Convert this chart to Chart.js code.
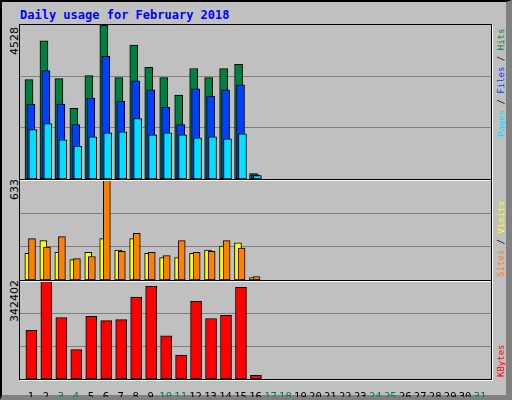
<!DOCTYPE html>
<html>
<head>
<meta charset="utf-8">
<script src="https://cdn.jsdelivr.net/npm/chart.js@4"></script>
<style>
  html, body { margin: 0; padding: 0; background: #c0c0c0; }
  #frame {
    position: relative; width: 504px; height: 393px;
    background: #c0c0c0;
    border-top: 2px solid #000; border-left: 2px solid #000;
    border-right: 6px solid #808080; border-bottom: 5px solid #808080;
    font-family: "DejaVu Sans Mono", monospace;
  }
  .title { position: absolute; left: 18px; top: 6px; color: #0000ff; font-weight: bold; font-size: 12px; }
  .panel { position: absolute; left: 18px; width: 471px; }
  .panel canvas { display: block; }
  .box { position: absolute; left: 17px; width: 471px; border: 1px solid #000; box-shadow: 1px 1px 0 #fff; pointer-events: none; }
  .ylab, .rlab { position: absolute; transform-origin: left top; transform: rotate(-90deg); white-space: nowrap; }
  .ylab { color: #000; left: 6px; font-size: 11px; font-family: "DejaVu Sans", sans-serif; }
  .rlab { left: 494px; font-size: 9px; line-height: 11px; }
</style>
</head>
<body>
<div id="frame">
  <div class="title">Daily usage for February 2018</div>

  <div class="ylab" style="top:53px">4528</div>
  <div class="ylab" style="top:198px">633</div>
  <div class="ylab" style="top:320px">342402</div>

  <div class="rlab" style="top:135px"><span style="color:#00e0ff">Pages</span> / <span style="color:#0040ff">Files</span> / <span style="color:#008040">Hits</span></div>
  <div class="rlab" style="top:275px"><span style="color:#ff8000">Sites</span> / <span style="color:#ffff00">Visits</span></div>
  <div class="rlab" style="top:375px"><span style="color:#ff0000">KBytes</span></div>

  <div class="panel" style="top:23px;height:154px"><canvas id="c1"></canvas></div>
  <div class="panel" style="top:178px;height:100px"><canvas id="c2"></canvas></div>
  <div class="panel" style="top:279px;height:116px"><canvas id="c3"></canvas></div>

  <div class="box" style="top:22px;height:154px"></div>
  <div class="box" style="top:177px;height:100px"></div>
  <div class="box" style="top:278px;height:98px"></div>
</div>

<script>
const days = Array.from({ length: 31 }, (_, i) => i + 1);
const weekendDays = [3, 4, 10, 11, 17, 18, 24, 25, 31];

const hits   = [2920, 4060, 2950, 2080, 3040, 4528, 2980, 3940, 3280, 2980, 2470, 3250, 2980, 3250, 3370, 160];
const files  = [2200, 3190, 2200, 1600, 2380, 3610, 2290, 2890, 2620, 2110, 1600, 2650, 2440, 2620, 2770, 120];
const pages  = [1450, 1630, 1150, 970, 1240, 1360, 1390, 1780, 1300, 1360, 1300, 1210, 1240, 1180, 1330, 100];
const visits = [169, 249, 175, 129, 175, 262, 189, 262, 169, 142, 142, 169, 189, 215, 235, 16];
const sites  = [262, 209, 275, 135, 149, 633, 182, 295, 175, 155, 249, 175, 182, 249, 202, 22];
const kbytes = [170000, 342402, 215000, 102500, 218750, 203750, 207500, 286250, 323750, 151250, 83750, 271250, 211250, 222500, 320000, 12500];

const maxHits = 4528, maxSites = 633, maxKB = 342402;

function series(values, shift) {
    return values.map((v, i) => ({ x: days[i] + shift, y: v }));
}

function bars(values, shift, color, width, order) {
    return {
        data: series(values, shift),
        backgroundColor: color,
        borderColor: '#000',
        borderWidth: 1,
        borderSkipped: false,
        barThickness: width,
        grouped: false,
        order
    };
}

function makeChart(id, datasets, maxY, showDays) {
    return new Chart(document.getElementById(id), {
        type: 'bar',
        data: { datasets },
        options: {
            responsive: true,
            maintainAspectRatio: false,
            animation: false,
            layout: { padding: 0 },
            plugins: { legend: { display: false }, tooltip: { enabled: false } },
            scales: {
                x: {
                    type: 'linear', min: 0.27, max: 31.73, offset: false,
                    display: showDays,
                    afterBuildTicks: s => { s.ticks = days.map(d => ({ value: d })); },
                    afterFit: s => { s.height = showDays ? 18 : 0; },
                    grid: { display: false },
                    border: { display: false },
                    ticks: {
                        autoSkip: false, maxRotation: 0, padding: 4,
                        font: { family: 'DejaVu Sans Mono', size: 10.5 },
                        color: c => weekendDays.includes(c.tick.value) ? '#008040' : '#000'
                    }
                },
                y: {
                    min: 0, max: maxY,
                    afterBuildTicks: s => { s.ticks = [maxY / 3, maxY * 2 / 3].map(v => ({ value: v })); },
                    afterFit: s => { s.width = 0; },
                    grid: { color: '#808080', drawTicks: false },
                    border: { display: false },
                    ticks: { display: false }
                }
            }
        }
    });
}

makeChart('c1', [
    bars(hits, -0.13, '#008040', 8, 3),
    bars(files, 0, '#0040ff', 8, 2),
    bars(pages, 0.13, '#00e0ff', 8, 1)
], maxHits, false);

makeChart('c2', [
    bars(visits, -0.17, '#ffff00', 7, 2),
    bars(sites, 0.07, '#ff8000', 7, 1)
], maxSites, false);

makeChart('c3', [
    bars(kbytes, 0.03, '#ff0000', 11, 1)
], maxKB, true);
</script>
</body>
</html>
